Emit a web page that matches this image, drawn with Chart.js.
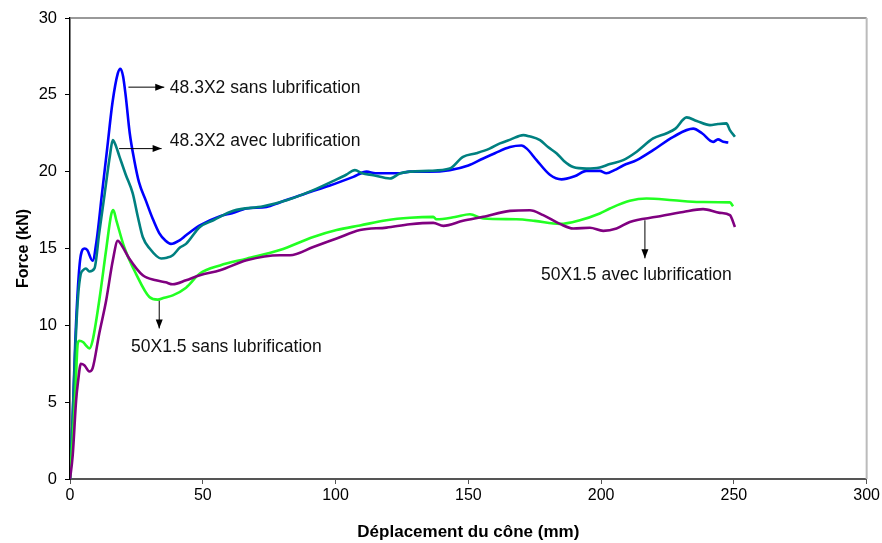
<!DOCTYPE html>
<html>
<head>
<meta charset="utf-8">
<script src="https://cdn.jsdelivr.net/npm/chart.js@4/dist/chart.umd.min.js"></script>
<style>
  html, body { margin: 0; padding: 0; background: #fff; }
  #wrap { width: 882px; height: 543px; position: relative; }
</style>
</head>
<body>
<div id="wrap"><canvas id="c"></canvas></div>
<script>
// ---- Data ----
const xTitle = "Déplacement du cône (mm)";
const yTitle = "Force (kN)";

const blueName = "48.3X2 sans lubrification";
const blueX = [0,1,2,3,4,5.5,6.5,8.5,10,12,14,16,18,19,20,21,22.5,24.2,26,28.6,31,33.6,36,38,41.4,43.7,48.9,56.5,61,66.5,74,79,89,97.9,106.7,111.7,115,119.2,124,128,135,143,150,155.6,160,165.7,170,172,175.7,180.7,185.1,190,194.5,199.5,202,205,208.3,213.4,219.6,227.2,234.7,238,242.2,244,246,247.9];
const blueY = [0,4,9,12.5,14.5,15.0,14.9,14.2,15.5,18.5,21.5,24.5,26.4,26.7,26.2,24.9,22.5,20.75,19.3,18.1,17,16,15.5,15.3,15.55,15.86,16.5,17.1,17.3,17.6,17.7,18.0,18.6,19.1,19.66,20.0,19.9,19.9,19.9,20.0,20.0,20.1,20.4,20.86,21.2,21.6,21.7,21.5,20.75,19.8,19.5,19.7,20.05,20.05,19.9,20.1,20.4,20.75,21.4,22.27,22.8,22.5,21.94,22.1,21.94,21.9];

const tealName = "48.3X2 avec lubrification";
const tealX = [0,1,2,3,4,5,6,7.3,9.2,11,13,15,16.1,17,18.6,21,23.6,25.5,27.4,30,34.3,36.5,38.7,41.4,43.7,48.9,54,61.5,72.8,81.6,91.6,100.4,104,107.3,110,114.2,120.5,124.2,128,135,143,148,153,158,161.9,166,170.7,173,177,180,183.2,186,189.5,194.5,199.5,203.3,208.3,213.4,219.6,224.7,228,232.2,236,241,244,247.2,248.5,250.4];
const tealY = [0,4,8.5,11.8,13.3,13.6,13.7,13.5,13.7,16,18.5,21,22.05,21.8,21,19.8,18.6,17.1,15.75,15,14.35,14.4,14.56,15.06,15.3,16.4,16.84,17.45,17.75,18.14,18.8,19.5,19.8,20.1,19.9,19.77,19.56,19.88,20.0,20.05,20.2,20.96,21.2,21.5,21.84,22.1,22.38,22.3,22.05,21.6,21.2,20.7,20.3,20.2,20.27,20.5,20.75,21.3,22.16,22.5,22.8,23.53,23.3,23.03,23.1,23.14,22.7,22.27];

const greenName = "50X1.5 sans lubrification";
const greenX = [0,1,2,2.9,3.5,5,6,7.3,8.5,11,13.6,15.5,16.3,17.5,20.4,24.8,29.9,33,35.5,38.7,43.7,48.9,56.5,66.5,79,91.6,100.4,109.2,119.2,128,136.8,138,145,150.6,155.6,168.1,175,184.5,192,199.5,203.3,210.8,217.1,227.2,237.2,248.5,249.7];
const greenY = [0,2.5,5.5,8.8,9.0,8.9,8.7,8.5,9,11.6,14.9,17.2,17.5,16.8,15.1,13.37,11.84,11.67,11.8,11.95,12.45,13.37,13.9,14.34,14.9,15.75,16.2,16.5,16.84,17.0,17.06,16.9,17.05,17.23,16.95,16.9,16.8,16.6,16.84,17.28,17.6,18.1,18.25,18.14,18.03,18.0,17.75];

const purpleName = "50X1.5 avec lubrification";
const purpleX = [0,1,2.3,3,4.1,5.4,7.3,8.5,11,13.6,16.1,18,19.5,22.3,27.4,32.4,36,38.7,43.7,48.9,56.5,66.5,79,82.8,91.6,100.4,109.2,119.2,128,136.8,140.6,148,155.6,165.7,173.2,178.2,184.5,189.5,195.8,200.8,205.8,210.8,220.9,230.9,238.4,244.7,248.5,250.4];
const purpleY = [0,1.5,5.1,6.3,7.5,7.4,7.0,7.2,9.46,11.6,14.2,15.5,15.2,14.35,13.26,12.93,12.8,12.67,12.93,13.26,13.58,14.23,14.56,14.56,15.1,15.65,16.2,16.36,16.58,16.67,16.47,16.8,17.06,17.45,17.49,17.17,16.6,16.3,16.35,16.15,16.3,16.73,17.06,17.38,17.56,17.32,17.17,16.4];

// annotation anchors (data units): arrow start, arrow end, text position
const annotArrowFrom = [[22,25.5],[18.5,21.5],[33.6,11.6],[216.5,16.84]];
const annotArrowTo   = [[35.5,25.5],[34.5,21.5],[33.6,9.8],[216.5,14.36]];
const annotTextAt    = [[37.6,25.44],[37.6,21.99],[58.9,8.57],[213.3,13.26]];
const annotAlign     = ['left','left','center','center'];
const annotText      = [blueName, tealName, greenName, purpleName];

const toPts = (xs, ys) => xs.map((x, i) => ({x: x, y: ys[i]}));

const FONT = "'Liberation Sans', Arial, sans-serif";

const annotPlugin = {
  id: 'annots',
  afterDatasetsDraw(chart) {
    const {ctx, scales: {x, y}} = chart;
    ctx.save();
    ctx.strokeStyle = '#000';
    ctx.fillStyle = '#000';
    ctx.lineWidth = 1;
    for (let i = 0; i < annotText.length; i++) {
      const x1 = x.getPixelForValue(annotArrowFrom[i][0]), y1 = y.getPixelForValue(annotArrowFrom[i][1]);
      const x2 = x.getPixelForValue(annotArrowTo[i][0]), y2 = y.getPixelForValue(annotArrowTo[i][1]);
      ctx.beginPath(); ctx.moveTo(x1, y1); ctx.lineTo(x2, y2); ctx.stroke();
      const a = Math.atan2(y2 - y1, x2 - x1), L = 9, W = 3.5;
      ctx.beginPath();
      ctx.moveTo(x2, y2);
      ctx.lineTo(x2 - L*Math.cos(a) + W*Math.sin(a), y2 - L*Math.sin(a) - W*Math.cos(a));
      ctx.lineTo(x2 - L*Math.cos(a) - W*Math.sin(a), y2 - L*Math.sin(a) + W*Math.cos(a));
      ctx.closePath(); ctx.fill();
      ctx.font = "17.5px " + FONT;
      ctx.fillStyle = '#111';
      ctx.textAlign = annotAlign[i];
      ctx.textBaseline = 'middle';
      ctx.fillText(annotText[i], x.getPixelForValue(annotTextAt[i][0]), y.getPixelForValue(annotTextAt[i][1]));
      ctx.fillStyle = '#000';
    }
    // top and right frame lines
    const ca = chart.chartArea;
    ctx.strokeStyle = '#777'; ctx.lineWidth = 1.5;
    ctx.beginPath(); ctx.moveTo(ca.left, ca.top); ctx.lineTo(ca.right, ca.top); ctx.stroke();
    ctx.strokeStyle = '#bbb'; ctx.lineWidth = 2;
    ctx.beginPath(); ctx.moveTo(ca.right, ca.top); ctx.lineTo(ca.right, ca.bottom); ctx.stroke();
    ctx.restore();
  }
};

const mk = (label, pts, color) => ({
  label, data: pts, borderColor: color, backgroundColor: color,
  borderWidth: 2.6, pointRadius: 0, cubicInterpolationMode: 'monotone', fill: false
});

new Chart(document.getElementById('c'), {
  type: 'line',
  data: {
    datasets: [
      mk(purpleName, toPts(purpleX, purpleY), '#800080'),
      mk(greenName, toPts(greenX, greenY), '#22ff22'),
      mk(tealName, toPts(tealX, tealY), '#008080'),
      mk(blueName, toPts(blueX, blueY), '#0000ff')
    ]
  },
  options: {
    responsive: true,
    maintainAspectRatio: false,
    animation: false,
    layout: { padding: { left: 0, right: 12, top: 18, bottom: 0 } },
    plugins: { legend: { display: false }, tooltip: { enabled: false } },
    scales: {
      x: {
        type: 'linear', min: 0, max: 300,
        ticks: { stepSize: 50, color: '#000', padding: 2, font: { family: FONT, size: 16 } },
        grid: { drawOnChartArea: false, drawTicks: true, tickLength: 5, color: '#555' },
        border: { display: true, color: '#555', width: 2 },
        title: { display: true, text: xTitle, color: '#000', padding: { top: 4, bottom: 0 },
                 font: { family: FONT, size: 17, weight: 'bold' } },
        afterFit: (s) => { s.height = 64; }
      },
      y: {
        min: 0, max: 30,
        ticks: { stepSize: 5, color: '#000', padding: 8, font: { family: FONT, size: 16.5 } },
        grid: { drawOnChartArea: false, drawTicks: true, tickLength: 5, color: '#000' },
        border: { display: true, color: '#000', width: 1.5 },
        title: { display: true, text: yTitle, color: '#000', padding: { top: 14, bottom: 0 },
                 font: { family: FONT, size: 16, weight: 'bold' } },
        afterFit: (s) => { s.width = 70; }
      }
    }
  },
  plugins: [annotPlugin]
});
</script>
</body>
</html>
